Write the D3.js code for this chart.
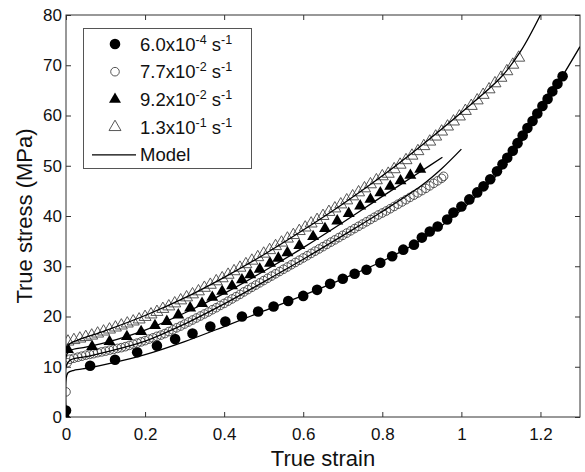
<!DOCTYPE html>
<html>
<head>
<meta charset="utf-8">
<script src="https://cdn.jsdelivr.net/npm/d3@7/dist/d3.min.js"></script>
<style>
  html, body { margin: 0; padding: 0; background: #fff; }
  svg { display: block; font-family: "Liberation Sans", Arial, sans-serif; }
</style>
</head>
<body>
<div id="chart"></div>
<script>
// x ticks / y ticks
const xTicks = [0, 0.2, 0.4, 0.6, 0.8, 1, 1.2];
const yTicks = [0, 10, 20, 30, 40, 50, 60, 70, 80];

// legend
const rateBase = ["6.0", "7.7", "9.2", "1.3"];
const rateExp = ["-4", "-2", "-2", "-1"];

// 6.0x10^-4 s^-1 (filled circles)
const strainA = [0, 0.061, 0.124, 0.18, 0.23, 0.276, 0.32, 0.365, 0.403, 0.445, 0.486, 0.525, 0.562, 0.6, 0.635, 0.668, 0.70, 0.73, 0.76, 0.795, 0.825, 0.853, 0.88, 0.90, 0.92, 0.94, 0.964, 0.98, 1.0, 1.02, 1.04, 1.056, 1.073, 1.09, 1.104, 1.116, 1.13, 1.142, 1.155, 1.167, 1.18, 1.192, 1.205, 1.218, 1.23, 1.243, 1.256];
const stressA = [1.3, 10.2, 11.4, 12.9, 14.2, 15.5, 16.6, 18.0, 19.0, 20.0, 21.0, 22.0, 23.1, 24.1, 25.3, 26.5, 27.5, 28.5, 29.3, 30.7, 32.0, 33.3, 34.3, 35.7, 36.9, 37.9, 39.3, 40.7, 41.9, 43.3, 44.7, 45.9, 47.3, 48.9, 50.3, 51.6, 53.0, 54.5, 56.0, 57.5, 58.9, 60.4, 61.9, 63.3, 64.8, 66.3, 67.8];

// 7.7x10^-2 s^-1 (open circles)
const strainB = [0, 0.003, 0.01, 0.02, 0.03, 0.04, 0.05, 0.06, 0.07, 0.08, 0.09, 0.10, 0.11, 0.12, 0.13, 0.14, 0.15, 0.16, 0.17, 0.18, 0.19, 0.20, 0.21, 0.22, 0.23, 0.24, 0.25, 0.26, 0.27, 0.28, 0.29, 0.30, 0.31, 0.32, 0.33, 0.34, 0.35, 0.36, 0.37, 0.38, 0.39, 0.40, 0.41, 0.42, 0.43, 0.44, 0.45, 0.46, 0.47, 0.48, 0.49, 0.50, 0.51, 0.52, 0.53, 0.54, 0.55, 0.56, 0.57, 0.58, 0.59, 0.60, 0.61, 0.62, 0.63, 0.64, 0.65, 0.66, 0.67, 0.68, 0.69, 0.70, 0.71, 0.72, 0.73, 0.74, 0.75, 0.76, 0.77, 0.78, 0.79, 0.80, 0.81, 0.82, 0.83, 0.84, 0.85, 0.86, 0.87, 0.88, 0.89, 0.90, 0.91, 0.92, 0.93, 0.94, 0.95, 0.955];
const stressB = [5.0, 10.8, 11.5, 11.7, 11.9, 12.1, 12.3, 12.45, 12.6, 12.8, 12.95, 13.1, 13.3, 13.45, 13.65, 13.8, 14.0, 14.25, 14.5, 14.7, 14.95, 15.2, 15.5, 15.75, 16.05, 16.3, 16.6, 17.0, 17.35, 17.75, 18.1, 18.5, 18.9, 19.3, 19.7, 20.1, 20.5, 20.9, 21.35, 21.75, 22.2, 22.6, 23.05, 23.5, 23.95, 24.4, 24.9, 25.35, 25.8, 26.25, 26.7, 27.15, 27.6, 28.05, 28.5, 28.95, 29.4, 29.85, 30.3, 30.75, 31.2, 31.65, 32.1, 32.55, 33.0, 33.45, 33.9, 34.35, 34.8, 35.25, 35.7, 36.15, 36.6, 37.05, 37.5, 37.95, 38.4, 38.85, 39.3, 39.75, 40.2, 40.6, 41.0, 41.45, 41.9, 42.35, 42.8, 43.25, 43.7, 44.15, 44.6, 45.05, 45.5, 46.0, 46.5, 47.0, 47.5, 47.9];

// 9.2x10^-2 s^-1 (filled triangles)
const strainC = [0, 0.005, 0.066, 0.11, 0.154, 0.19, 0.225, 0.255, 0.284, 0.314, 0.344, 0.37, 0.395, 0.42, 0.445, 0.466, 0.49, 0.516, 0.537, 0.56, 0.59, 0.625, 0.655, 0.686, 0.715, 0.744, 0.77, 0.795, 0.82, 0.846, 0.871, 0.896];
const stressC = [0, 13.4, 14.0, 15.0, 16.0, 17.0, 18.2, 19.0, 20.3, 21.7, 22.6, 23.8, 25.0, 26.1, 27.3, 28.3, 29.4, 30.6, 31.6, 32.7, 34.1, 35.9, 37.5, 39.0, 40.5, 42.0, 43.3, 44.6, 45.9, 47.0, 48.1, 49.3];

// 1.3x10^-1 s^-1 (open triangles)
const strainD = [0.005, 0.02, 0.035, 0.05, 0.065, 0.08, 0.095, 0.11, 0.125, 0.14, 0.155, 0.17, 0.185, 0.2, 0.215, 0.23, 0.245, 0.26, 0.275, 0.29, 0.305, 0.32, 0.335, 0.35, 0.365, 0.38, 0.395, 0.41, 0.425, 0.44, 0.455, 0.47, 0.485, 0.5, 0.515, 0.53, 0.545, 0.56, 0.575, 0.59, 0.605, 0.62, 0.635, 0.65, 0.665, 0.68, 0.695, 0.71, 0.725, 0.74, 0.755, 0.77, 0.785, 0.80, 0.815, 0.83, 0.845, 0.86, 0.875, 0.89, 0.905, 0.92, 0.935, 0.95, 0.965, 0.98, 0.995, 1.01, 1.025, 1.04, 1.055, 1.07, 1.085, 1.1, 1.115, 1.13, 1.145];
const stressD = [15.0, 15.3, 15.6, 15.9, 16.2, 16.6, 17.0, 17.4, 17.8, 18.2, 18.6, 19.0, 19.4, 19.9, 20.4, 20.9, 21.5, 22.0, 22.6, 23.2, 23.8, 24.4, 25.0, 25.7, 26.3, 27.0, 27.6, 28.3, 29.0, 29.7, 30.4, 31.1, 31.8, 32.5, 33.2, 34.0, 34.7, 35.5, 36.2, 37.0, 37.7, 38.5, 39.2, 40.0, 40.8, 41.5, 42.3, 43.1, 43.9, 44.7, 45.5, 46.3, 47.1, 47.9, 48.4, 49.3, 50.2, 51.1, 52.0, 52.9, 53.9, 54.8, 55.8, 56.8, 57.8, 58.8, 59.8, 60.9, 61.9, 63.0, 64.1, 65.2, 66.4, 67.5, 68.8, 70.1, 71.5];

// model curves
const modelStrainA = [0, 0, 0.005, 0.02, 0.06, 0.12, 0.2, 0.3, 0.4, 0.5, 0.6, 0.7, 0.8, 0.9, 1.0, 1.05, 1.1, 1.15, 1.2, 1.25, 1.3];
const modelStressA = [0, 7.5, 8.8, 9.3, 9.8, 10.8, 12.4, 15.0, 18.0, 21.1, 24.2, 27.5, 31.0, 35.3, 41.2, 44.9, 49.1, 54.6, 60.8, 67.1, 73.7];
const modelStrainB = [0, 0, 0.01, 0.05, 0.1, 0.2, 0.3, 0.4, 0.5, 0.6, 0.7, 0.8, 0.9, 0.95, 1.0];
const modelStressB = [0, 10, 11.3, 12.0, 12.9, 15.1, 18.5, 22.5, 26.9, 31.4, 36.1, 40.9, 46.1, 49.4, 53.3];
const modelStrainC = [0, 0, 0.01, 0.05, 0.1, 0.2, 0.3, 0.4, 0.5, 0.6, 0.7, 0.8, 0.9, 0.952];
const modelStressC = [0, 12, 13.2, 13.9, 14.8, 17.3, 20.7, 24.6, 29.0, 33.7, 38.7, 43.9, 49.0, 51.7];
const modelStrainD = [0, 0, 0.01, 0.03, 0.1, 0.2, 0.3, 0.4, 0.5, 0.6, 0.7, 0.8, 0.9, 1.0, 1.1, 1.15, 1.2];
const modelStressD = [0, 13, 14.6, 15.3, 17.2, 20.2, 23.7, 27.8, 32.3, 37.2, 42.4, 48.0, 54.1, 60.6, 67.6, 72.8, 80];

const W = 585, H = 472;
const margin = { left: 66, right: 5, top: 15, bottom: 55 };

const svg = d3.select('#chart').append('svg')
  .attr('width', W)
  .attr('height', H);

const x = d3.scaleLinear().domain([0, 1.3]).range([margin.left, W - margin.right]);
const y = d3.scaleLinear().domain([0, 80]).range([H - margin.bottom, margin.top]);

const zip = (xs, ys) => xs.map((v, i) => [v, ys[i]]);

svg.append('clipPath').attr('id', 'clip')
  .append('rect')
  .attr('x', x(0)).attr('y', y(80))
  .attr('width', x(1.3) - x(0)).attr('height', y(0) - y(80));

// axes, ticks pointing inward
const fmt = d3.format('~g');
const axisStyle = g => {
  g.select('.domain').remove();
  g.selectAll('line').attr('stroke', '#333');
  g.selectAll('text').attr('fill', '#111').attr('font-size', 17);
};

svg.append('g')
  .attr('transform', `translate(0,${y(0)})`)
  .call(d3.axisBottom(x).tickValues(xTicks).tickFormat(fmt).tickSizeInner(-5).tickSizeOuter(0).tickPadding(11))
  .call(axisStyle);
svg.append('g')
  .attr('transform', `translate(0,${y(80)})`)
  .call(d3.axisTop(x).tickValues(xTicks).tickFormat('').tickSizeInner(-5).tickSizeOuter(0))
  .call(axisStyle);
svg.append('g')
  .attr('transform', `translate(${x(0)},0)`)
  .call(d3.axisLeft(y).tickValues(yTicks).tickFormat(fmt).tickSizeInner(-5).tickSizeOuter(0).tickPadding(4))
  .call(axisStyle);
svg.append('g')
  .attr('transform', `translate(${x(1.3)},0)`)
  .call(d3.axisRight(y).tickValues(yTicks).tickFormat('').tickSizeInner(-5).tickSizeOuter(0))
  .call(axisStyle);

svg.append('rect')
  .attr('x', x(0)).attr('y', y(80))
  .attr('width', x(1.3) - x(0)).attr('height', y(0) - y(80))
  .attr('fill', 'none').attr('stroke', '#333').attr('stroke-width', 1);

// axis titles
svg.append('text')
  .attr('x', (x(0) + x(1.3)) / 2).attr('y', 466)
  .attr('text-anchor', 'middle').attr('font-size', 22).attr('fill', '#111')
  .text('True strain');
svg.append('text')
  .attr('transform', `translate(32,${(y(0) + y(80)) / 2}) rotate(-90)`)
  .attr('text-anchor', 'middle').attr('font-size', 22).attr('fill', '#111')
  .text('True stress (MPa)');

// markers
const plot = svg.append('g').attr('clip-path', 'url(#clip)');
const sym = (type, size) => d3.symbol().type(type).size(size)();

const series = [
  { pts: zip(strainA, stressA), shape: sym(d3.symbolCircle, 88), fill: '#000', stroke: 'none' },
  { pts: zip(strainB, stressB), shape: sym(d3.symbolCircle, 58), fill: 'none', stroke: '#444' },
  { pts: zip(strainC, stressC), shape: sym(d3.symbolTriangle, 62), fill: '#000', stroke: 'none' },
  { pts: zip(strainD, stressD), shape: sym(d3.symbolTriangle, 62), fill: 'none', stroke: '#444' }
];

series.forEach(s => {
  plot.append('g').selectAll('path')
    .data(s.pts)
    .join('path')
    .attr('transform', d => `translate(${x(d[0])},${y(d[1])})`)
    .attr('d', s.shape)
    .attr('fill', s.fill)
    .attr('stroke', s.stroke)
    .attr('stroke-width', 0.9);
});

// model lines
const line = d3.line().x(d => x(d[0])).y(d => y(d[1])).curve(d3.curveCatmullRom.alpha(0.5));
[
  zip(modelStrainA, modelStressA),
  zip(modelStrainB, modelStressB),
  zip(modelStrainC, modelStressC),
  zip(modelStrainD, modelStressD)
].forEach(m => {
  plot.append('path')
    .attr('d', line(m))
    .attr('fill', 'none')
    .attr('stroke', '#000')
    .attr('stroke-width', 1.3);
});

// legend
const lg = svg.append('g');
lg.append('rect')
  .attr('x', 83.5).attr('y', 28.5).attr('width', 168).attr('height', 140)
  .attr('fill', '#fff').attr('stroke', '#555').attr('stroke-width', 1);

const rowY = i => 44 + i * 27.7;
series.forEach((s, i) => {
  lg.append('path')
    .attr('transform', `translate(115,${rowY(i)})`)
    .attr('d', s.shape)
    .attr('fill', s.fill)
    .attr('stroke', s.stroke)
    .attr('stroke-width', 0.9);
  const t = lg.append('text')
    .attr('x', 140).attr('y', rowY(i) + 6.5)
    .attr('font-size', 18.5).attr('fill', '#111');
  t.append('tspan').text(rateBase[i] + 'x10');
  t.append('tspan').attr('dy', -7).attr('font-size', 12.5).text(rateExp[i]);
  t.append('tspan').attr('dy', 7).text(' s');
  t.append('tspan').attr('dy', -7).attr('font-size', 12.5).text('-1');
});
lg.append('line')
  .attr('x1', 92).attr('x2', 136)
  .attr('y1', rowY(4)).attr('y2', rowY(4))
  .attr('stroke', '#000').attr('stroke-width', 1.3);
lg.append('text')
  .attr('x', 140).attr('y', rowY(4) + 6.5)
  .attr('font-size', 18.5).attr('fill', '#111')
  .text('Model');
</script>
</body>
</html>
